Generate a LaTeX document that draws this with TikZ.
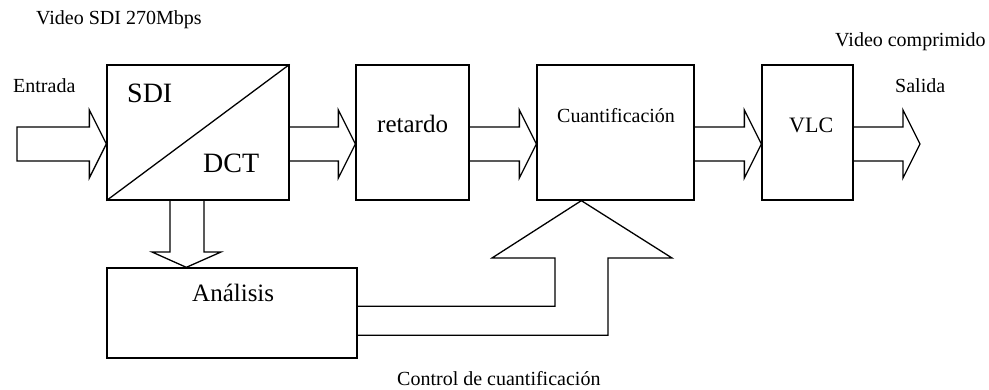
\documentclass[tikz,border=0pt]{standalone}
\usepackage{fontspec}
\setmainfont{Liberation Serif}
\usetikzlibrary{calc}
\newcommand\bigarrow[2]{%
  \draw[blk] ($(#1)+(0,-17)$) -- ($(#2)+(-17,-17)$) -- ($(#2)+(-17,-34)$) -- (#2)
    -- ($(#2)+(-17,34)$) -- ($(#2)+(-17,17)$) -- ($(#1)+(0,17)$);}
\begin{document}
\begin{tikzpicture}[x=1pt,y=-1pt,
  blk/.style={line width=1.3pt, line join=miter},
  box/.style={draw, line width=1.3pt, rectangle, inner sep=0pt, minimum height=135pt},
  lbl/.style={inner sep=0pt, anchor=base west, font=\fontsize{#1}{#1}\selectfont}]
\useasboundingbox (0,0) rectangle (989,390);
% boxes
\node[box, minimum width=182pt] (sdi) at (198,132.5) {};
\node[box, minimum width=113pt] (ret) at (412.5,132.5) {};
\node[box, minimum width=157pt] (cuant) at (615.5,132.5) {};
\node[box, minimum width=91pt] (vlc) at (807.5,132.5) {};
\node[box, minimum width=250pt, minimum height=90pt] (ana) at (232,313) {};
\draw[blk] (sdi.south west) -- (sdi.north east);
% labels
\node[lbl=20] (tvsdi) at (36,25) {Video SDI 270Mbps};
\node[lbl=20] (tent) at (13,93) {Entrada};
\node[lbl=28] (tsdi) at (127,103) {SDI};
\node[lbl=28] (tdct) at (203,173) {DCT};
\node[lbl=25] (tret) at (377,133) {retardo};
\node[lbl=20] (tcu) at (557,122.5) {Cuantificación};
\node[lbl=22] (tvlc) at (789,133) {VLC};
\node[lbl=20] (tvc) at (835,47) {Video comprimido};
\node[lbl=20] (tsal) at (895,93) {Salida};
\node[lbl=25] (tana) at (192,301.5) {Análisis};
\node[lbl=20] (tctl) at (397,385) {Control de cuantificación};
% row coordinates
\coordinate (row) at (0,144);
\coordinate (inS) at (17,144);
\coordinate (outT) at (920,144);
\coordinate (sdiW) at (sdi.west |- row);
\coordinate (sdiE) at (sdi.east |- row);
\coordinate (retW) at (ret.west |- row);
\coordinate (retE) at (ret.east |- row);
\coordinate (cuW) at (cuant.west |- row);
\coordinate (cuE) at (cuant.east |- row);
\coordinate (vlcW) at (vlc.west |- row);
\coordinate (vlcE) at (vlc.east |- row);
% input arrow (closed)
\draw[blk] ($(inS)+(0,-17)$) -- ($(sdiW)+(-17,-17)$) -- ($(sdiW)+(-17,-34)$) -- (sdiW)
    -- ($(sdiW)+(-17,34)$) -- ($(sdiW)+(-17,17)$) -- ($(inS)+(0,17)$) -- cycle;
\bigarrow{sdiE}{retW}
\bigarrow{retE}{cuW}
\bigarrow{cuE}{vlcW}
\bigarrow{vlcE}{outT}
% down arrow SDI -> Analisis
\coordinate (dtip) at ($(ana.north west)+(80,0)$);
\draw[blk] (sdi.south west -| 170,0) -- (170,252) -- (152,252) -- (dtip)
   -- (221,252) -- (204,252) -- (sdi.south west -| 204,0);
% up arrow Analisis -> Cuantificacion
\coordinate (utip) at ($(cuant.south west)+(45,0)$);
\coordinate (a1) at ($(ana.north east)+(0,39)$);
\coordinate (a2) at ($(ana.north east)+(0,68)$);
\draw[blk] (a1) -- (a1 -| 555,0) -- (555,258) -- (492,258) -- (utip)
   -- (672,258) -- (608,258) -- (a2 -| 608,0) -- (a2);
\end{tikzpicture}
\end{document}
